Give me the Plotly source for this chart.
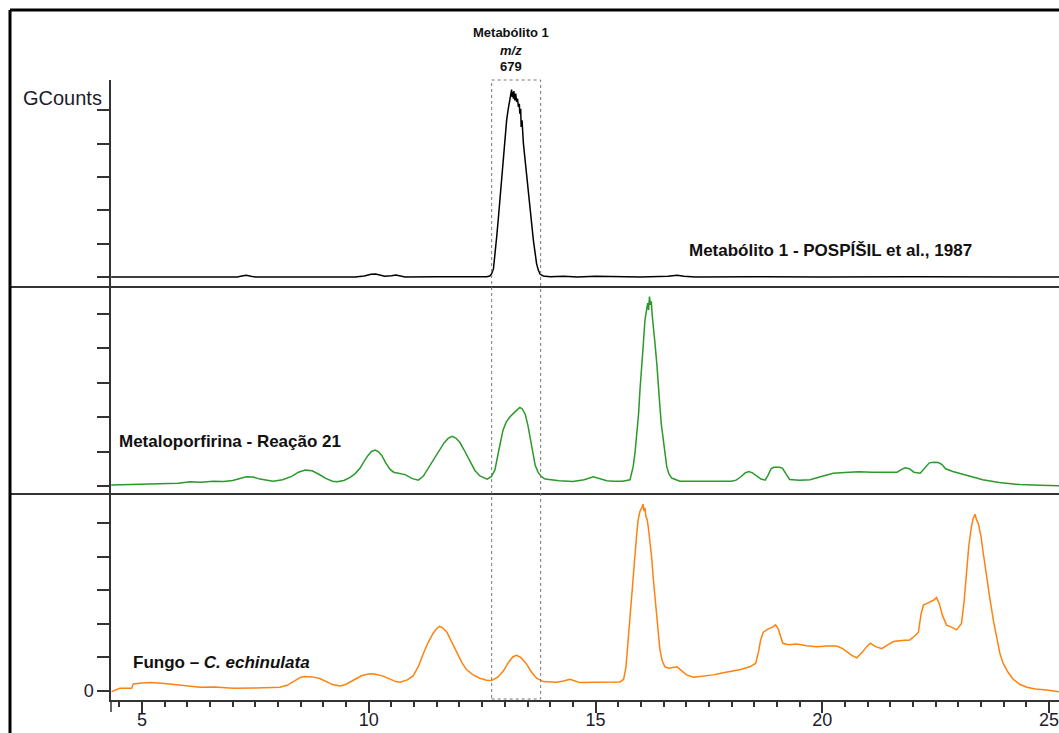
import plotly.graph_objects as go

# Retention time (min) and detector response (GCounts) for the three chromatograms
std_time = [4.32, 5.5, 6.5, 7.1, 7.2, 7.3, 7.4, 7.5, 8.5, 9.7, 9.9, 10.05, 10.15, 10.25, 10.35,
            10.5, 10.6, 10.7, 10.8, 11.5, 12.3, 12.6, 12.67, 12.71, 12.75, 12.79, 12.82, 12.86,
            12.89, 12.93, 12.97, 13.0, 13.04, 13.07, 13.11, 13.13, 13.15, 13.16, 13.17, 13.19,
            13.20, 13.22, 13.24, 13.26, 13.28, 13.30, 13.32, 13.33, 13.35, 13.36, 13.38, 13.41,
            13.44, 13.48, 13.52, 13.56, 13.60, 13.63, 13.67, 13.70, 13.74, 13.78, 13.85, 14.0,
            14.3, 14.6, 15.0, 15.5, 16.0, 16.6, 16.8, 16.95, 17.2, 18.5, 20.0, 22.0, 25.22]
std_resp = [0.0, 0.0, 0.01, 0.0, 0.03, 0.05, 0.02, 0.0, 0.0, 0.0, 0.03, 0.08, 0.09, 0.05, 0.02,
            0.04, 0.06, 0.03, 0.0, 0.01, 0.0, 0.01, 0.03, 0.1, 0.25, 0.7, 1.2, 1.8,
            2.3, 3.0, 3.7, 4.2, 4.7, 5.0, 5.3, 5.45, 5.62, 5.4, 5.55, 5.35,
            5.58, 5.3, 5.5, 5.25, 5.35, 5.1, 5.2, 4.9, 5.05, 4.5, 4.7, 4.0,
            3.6, 3.0, 2.5, 2.0, 1.5, 1.1, 0.7, 0.4, 0.2, 0.08, 0.03, 0.01,
            0.02, 0.0, 0.02, 0.01, 0.0, 0.02, 0.05, 0.02, 0.0, 0.01, 0.0, 0.01, 0.0]

metal_time = [4.32, 4.8, 5.3, 5.8, 6.06, 6.3, 6.57, 6.8, 7.0, 7.15, 7.3, 7.45, 7.6, 7.89, 8.1,
              8.3, 8.45, 8.6, 8.75, 8.9, 9.05, 9.2, 9.30, 9.45, 9.59, 9.7, 9.81, 9.9, 9.98,
              10.06, 10.14, 10.21, 10.29, 10.37, 10.47, 10.55, 10.65, 10.80, 10.95, 11.09, 11.2,
              11.35, 11.46, 11.57, 11.66, 11.75, 11.84, 11.92, 12.01, 12.1, 12.23, 12.34, 12.45,
              12.61, 12.7, 12.78, 12.87, 12.96, 13.03, 13.11, 13.2, 13.27, 13.33, 13.38, 13.45,
              13.51, 13.56, 13.62, 13.67, 13.73, 13.8, 13.89, 14.2, 14.5, 14.75, 14.95, 15.1,
              15.25, 15.39, 15.6, 15.76, 15.83, 15.87, 15.91, 15.95, 15.98, 16.02, 16.05, 16.09,
              16.12, 16.15, 16.17, 16.19, 16.21, 16.23, 16.25, 16.27, 16.31, 16.35, 16.38, 16.42,
              16.45, 16.49, 16.53, 16.57, 16.62, 16.68, 16.86, 17.3, 18.0, 18.1, 18.2, 18.3,
              18.38, 18.46, 18.55, 18.65, 18.74, 18.8, 18.87, 18.93, 19.05, 19.12, 19.2, 19.28,
              19.5, 19.73, 20.0, 20.24, 20.5, 20.8, 21.1, 21.4, 21.65, 21.75, 21.83, 21.92,
              22.02, 22.16, 22.27, 22.36, 22.46, 22.56, 22.64, 22.72, 22.88, 23.2, 23.54, 23.9,
              24.36, 24.8, 25.22]
metal_resp = [0.03, 0.04, 0.06, 0.08, 0.12, 0.11, 0.14, 0.13, 0.16, 0.22, 0.27, 0.26, 0.2, 0.14, 0.18,
              0.28, 0.4, 0.46, 0.44, 0.34, 0.22, 0.14, 0.12, 0.16, 0.25, 0.36, 0.52, 0.72, 0.88,
              1.0, 1.04, 1.0, 0.88, 0.68, 0.48, 0.4, 0.37, 0.33, 0.22, 0.17, 0.28,
              0.6, 0.85, 1.08, 1.25, 1.38, 1.44, 1.39, 1.26, 1.05, 0.70, 0.45, 0.29,
              0.20, 0.27, 0.46, 1.05, 1.62, 1.85, 2.0, 2.12, 2.22, 2.28, 2.24, 2.08,
              1.75, 1.35, 0.90, 0.6, 0.41, 0.28, 0.2, 0.15, 0.13, 0.18, 0.27, 0.22,
              0.15, 0.14, 0.14, 0.18, 0.56, 0.95, 1.43, 2.1, 2.78, 3.4, 4.04, 4.81,
              5.1, 5.3, 5.1, 5.49, 5.25, 5.35, 4.95, 4.72, 4.15, 3.57, 2.9, 2.3,
              1.8, 1.33, 0.9, 0.56, 0.35, 0.23, 0.14, 0.14, 0.14, 0.17, 0.26, 0.38,
              0.42, 0.38, 0.3, 0.2, 0.17, 0.3, 0.5, 0.54, 0.54, 0.52, 0.35, 0.19,
              0.17, 0.18, 0.28, 0.37, 0.39, 0.41, 0.4, 0.39, 0.40, 0.48, 0.53, 0.5,
              0.4, 0.37, 0.52, 0.67, 0.69, 0.68, 0.62, 0.5, 0.42, 0.31, 0.18, 0.1,
              0.04, 0.02, 0.01]

fungus_time = [4.33, 4.42, 4.51, 4.77, 4.81, 5.0, 5.18, 5.45, 5.7, 6.0, 6.28, 6.6, 7.01, 7.5, 8.04,
               8.2, 8.35, 8.5, 8.59, 8.75, 8.92, 9.05, 9.2, 9.37, 9.5, 9.7, 9.85, 10.03, 10.15,
               10.3, 10.47, 10.6, 10.69, 10.85, 10.98, 11.1, 11.2, 11.3, 11.42, 11.5, 11.56, 11.63,
               11.72, 11.83, 11.94, 12.05, 12.16, 12.3, 12.45, 12.6, 12.71, 12.85, 12.97, 13.08,
               13.18, 13.26, 13.35, 13.42, 13.48, 13.58, 13.70, 13.85, 14.14, 14.3, 14.43, 14.55,
               14.65, 15.0, 15.3, 15.54, 15.62, 15.67, 15.72, 15.76, 15.80, 15.84, 15.87, 15.91,
               15.94, 15.98, 16.02, 16.05, 16.07, 16.09, 16.11, 16.14, 16.17, 16.20, 16.24, 16.27,
               16.31, 16.35, 16.39, 16.42, 16.47, 16.53, 16.62, 16.72, 16.8, 16.88, 17.01, 17.16,
               17.30, 17.6, 17.76, 18.0, 18.2, 18.4, 18.53, 18.6, 18.64, 18.7, 18.8, 18.9,
               18.97, 19.03, 19.08, 19.13, 19.25, 19.44, 19.65, 19.88, 20.1, 20.32, 20.45, 20.54,
               20.65, 20.76, 20.88, 20.98, 21.06, 21.18, 21.31, 21.45, 21.57, 21.75, 21.93, 22.05,
               22.12, 22.18, 22.23, 22.30, 22.38, 22.45, 22.52, 22.58, 22.65, 22.74, 22.85, 22.96,
               23.07, 23.13, 23.18, 23.23, 23.29, 23.33, 23.37, 23.40, 23.44, 23.50, 23.55, 23.62,
               23.70, 23.78, 23.85, 23.92, 23.99, 24.1, 24.21, 24.35, 24.51, 24.7, 24.95, 25.22]
fungus_resp = [-0.02, 0.03, 0.08, 0.08, 0.21, 0.24, 0.25, 0.23, 0.2, 0.15, 0.11, 0.12, 0.08, 0.09, 0.11,
               0.17, 0.3, 0.41, 0.43, 0.42, 0.37, 0.28, 0.19, 0.15, 0.2, 0.35, 0.46, 0.51, 0.5,
               0.45, 0.35, 0.28, 0.26, 0.33, 0.45, 0.75, 1.1, 1.42, 1.72, 1.86, 1.92, 1.88,
               1.76, 1.45, 1.12, 0.85, 0.63, 0.48, 0.38, 0.32, 0.31, 0.42, 0.6, 0.85,
               1.02, 1.06, 1.0, 0.9, 0.8, 0.58, 0.38, 0.28, 0.26, 0.3, 0.35, 0.3,
               0.25, 0.26, 0.26, 0.27, 0.35, 0.7, 1.52, 2.25, 3.0, 3.65, 4.20, 4.7,
               5.09, 5.35, 5.45, 5.56, 5.35, 5.45, 5.2, 5.1, 4.8, 4.49, 3.95, 3.40,
               2.8, 2.21, 1.65, 1.22, 0.9, 0.72, 0.68, 0.7, 0.72, 0.62, 0.48, 0.41,
               0.43, 0.48, 0.53, 0.58, 0.64, 0.72, 0.82, 1.2, 1.52, 1.75, 1.84, 1.9,
               1.97, 1.84, 1.6, 1.42, 1.38, 1.40, 1.35, 1.32, 1.34, 1.34, 1.26, 1.17,
               1.06, 0.99, 1.15, 1.32, 1.42, 1.32, 1.26, 1.38, 1.47, 1.5, 1.52, 1.65,
               1.75, 2.3, 2.56, 2.6, 2.65, 2.7, 2.78, 2.6, 2.25, 1.96, 1.9, 1.82,
               2.01, 2.7, 3.50, 4.3, 4.89, 5.15, 5.26, 5.1, 4.99, 4.6, 4.10, 3.4,
               2.71, 2.05, 1.52, 1.1, 0.82, 0.55, 0.35, 0.2, 0.11, 0.06, 0.03, -0.02]

y_ticks = [0, 1, 2, 3, 4, 5]
x_major = [5, 10, 15, 20, 25]
x_range = [4.316, 25.22]
box_window = [12.71, 13.79]

FONT = "Liberation Sans, Arial, sans-serif"
AXIS = "#333333"
TXT = "#1c1c2c"

fig = go.Figure()
# the fungus trace lives on the companion time axis so that its tick marks get drawn
fig.add_trace(go.Scatter(x=fungus_time, y=fungus_resp, xaxis="x2", yaxis="y",
                         mode="lines", line=dict(color="#ff820f", width=1.5)))
fig.add_trace(go.Scatter(x=metal_time, y=metal_resp, xaxis="x", yaxis="y2",
                         mode="lines", line=dict(color="#2a9a2a", width=1.5)))
fig.add_trace(go.Scatter(x=std_time, y=std_resp, xaxis="x", yaxis="y3",
                         mode="lines", line=dict(color="#000000", width=1.5)))

W, H = 1059, 733
L, R, T, B = 111, 0, 80, 33
pw, ph = W - L - R, H - T - B


def py(pix):
    return (H - B - pix) / ph


def px(pix):
    return (pix - L) / pw


d1 = py(494)
d2 = py(287)

yaxis_common = dict(showline=True, linecolor=AXIS, linewidth=1.5, ticks="outside",
                    ticklen=12, tickwidth=1.5, tickcolor=AXIS, showgrid=False,
                    zeroline=False, tickvals=y_ticks, anchor="x", fixedrange=True,
                    automargin=False,
                    tickfont=dict(family=FONT, size=18, color=TXT))

fig.update_layout(
    width=W, height=H,
    margin=dict(l=L, r=R, t=T, b=B, pad=0, autoexpand=False),
    paper_bgcolor="white", plot_bgcolor="white",
    showlegend=False,
    font=dict(family=FONT, color=TXT),
    # time axis carrying the labels (short ticks keep the labels close to the line)
    xaxis=dict(range=x_range, showline=True, linecolor=AXIS, linewidth=1.5,
               ticks="outside", ticklen=3, tickwidth=1.5, tickcolor=AXIS,
               tickvals=x_major, ticktext=[str(v) for v in x_major],
               showgrid=False, zeroline=False, anchor="y", automargin=False,
               ticklabeloverflow="allow",
               tickfont=dict(family=FONT, size=18, color=TXT)),
    # companion time axis drawing the long major and short half-minute ticks
    xaxis2=dict(range=x_range, matches="x", overlaying="x", anchor="y", side="bottom",
                showline=False, showticklabels=False,
                ticks="outside", ticklen=12, tickwidth=1.5, tickcolor=AXIS,
                tickvals=x_major,
                minor=dict(dtick=0.5, tick0=0, ticks="outside", ticklen=6,
                           tickwidth=1.5, tickcolor=AXIS),
                showgrid=False, zeroline=False, automargin=False),
    yaxis=dict(domain=[0, d1], range=[-0.268, 5.863],
               ticktext=["0", "", "", "", "", ""], **yaxis_common),
    yaxis2=dict(domain=[d1, d2], range=[-0.232, 5.768],
                ticktext=[""] * 6, **yaxis_common),
    yaxis3=dict(domain=[d2, 1], range=[-0.30, 5.91],
                ticktext=[""] * 6, **yaxis_common),
)

shapes = []
# panel separators
for sep in (287, 494):
    shapes.append(dict(type="line", xref="paper", yref="paper",
                       x0=px(10), x1=1.0, y0=py(sep), y1=py(sep),
                       line=dict(color=AXIS, width=2)))
# frame edges
shapes.append(dict(type="line", xref="paper", yref="paper",
                   x0=px(10), x1=1.0, y0=py(10), y1=py(10),
                   line=dict(color="black", width=3)))
shapes.append(dict(type="line", xref="paper", yref="paper",
                   x0=px(10), x1=px(10), y0=py(10), y1=py(733),
                   line=dict(color="black", width=3)))
# y axis stub below the time axis
shapes.append(dict(type="line", xref="paper", yref="paper",
                   x0=0, x1=0, y0=0, y1=py(712),
                   line=dict(color=AXIS, width=1.5)))
# window around the metabolite peak
shapes.append(dict(type="rect", xref="x", yref="paper",
                   x0=box_window[0], x1=box_window[1], y0=py(699), y1=1.0,
                   line=dict(color="#777777", width=1, dash="dot")))
fig.update_layout(shapes=shapes)

peak_label = ["<b>Metabólito 1</b>", "<b><i>m/z</i></b>", "<b>679</b>"]
for text, ly in zip(peak_label, (32, 50, 67)):
    fig.add_annotation(text=text, x=px(511), y=py(ly), xref="paper", yref="paper",
                       xanchor="center", yanchor="middle", showarrow=False,
                       font=dict(family=FONT, size=13, color="#111111"))

fig.add_annotation(text="GCounts", x=px(104), y=py(98), xref="paper", yref="paper",
                   xanchor="right", yanchor="middle", showarrow=False,
                   font=dict(family=FONT, size=20, color=TXT))

labels = [
    ("<b>Metabólito 1 - POSPÍŠIL et al., 1987</b>", 687, 251),
    ("<b>Metaloporfirina - Reação 21</b>", 117, 441),
    ("<b>Fungo – <i>C. echinulata</i></b>", 131, 662),
]
for text, lx, ly in labels:
    fig.add_annotation(text=text, x=px(lx), y=py(ly), xref="paper", yref="paper",
                       xanchor="left", yanchor="middle", showarrow=False,
                       font=dict(family=FONT, size=17, color="#111111"))

fig.write_html("out.html")
